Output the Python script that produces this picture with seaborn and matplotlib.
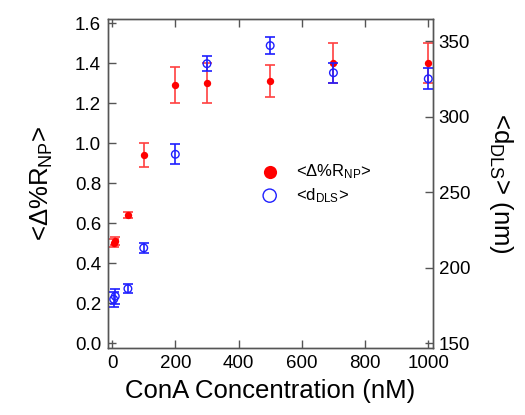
import numpy as np
import pandas as pd
import matplotlib
matplotlib.use("Agg")
import matplotlib.pyplot as plt
import seaborn as sns

# values
conc = [5, 10, 50, 100, 200, 300, 500, 700, 1000]
dR = [0.50, 0.51, 0.64, 0.94, 1.29, 1.30, 1.31, 1.40, 1.40]
dR_err = [0.02, 0.02, 0.015, 0.06, 0.09, 0.10, 0.08, 0.10, 0.10]
d_dls = [179, 181, 186, 213, 275, 335, 347, 329, 325]
d_dls_err = [5, 5, 3, 3.5, 6.5, 5, 5.5, 6.5, 7]

sns.set_style("ticks")
plt.rcParams['font.family'] = ['Liberation Sans', 'DejaVu Sans']
plt.rcParams['mathtext.default'] = 'regular'
plt.rcParams['text.color'] = 'black'
plt.rcParams['axes.labelcolor'] = 'black'
plt.rcParams['xtick.labelcolor'] = 'black'
plt.rcParams['ytick.labelcolor'] = 'black'

df = pd.DataFrame({"conc": conc, "dR": dR, "dR_err": dR_err,
                   "d": d_dls, "d_err": d_dls_err})

red = "#ff0000"
blue = "#1f1fff"
frame = "#555555"

fig, ax = plt.subplots(figsize=(5.25, 4.15), dpi=100)
fig.subplots_adjust(left=0.2057, right=0.8248, top=0.9542, bottom=0.1614)
ax2 = ax.twinx()

ax.errorbar(df["conc"], df["dR"], yerr=df["dR_err"], fmt='none',
            ecolor="#ff4040", elinewidth=1.2, capsize=3.5, capthick=1.2, zorder=2)
sns.scatterplot(data=df, x="conc", y="dR", ax=ax, color=red, s=28,
                edgecolor=red, linewidth=0, zorder=3, legend=False)

ax2.errorbar(df["conc"], df["d"], yerr=df["d_err"], fmt='none',
             ecolor=blue, elinewidth=1.2, capsize=3.5, capthick=1.2, zorder=2)
sns.scatterplot(data=df, x="conc", y="d", ax=ax2, s=30, marker='o',
                facecolor='none', edgecolor=blue, linewidth=1.0, zorder=3,
                legend=False)

ax.set_xlim(-13, 1015)
ax.set_ylim(-0.025, 1.62)
ax2.set_ylim(146.7, 364.6)
ax.set_xticks([0, 200, 400, 600, 800, 1000])
ax.set_yticks(np.arange(0, 1.61, 0.2))
ax.set_yticklabels([f"{v:.1f}" for v in np.arange(0, 1.61, 0.2)])
ax2.set_yticks([150, 200, 250, 300, 350])

for a in (ax, ax2):
    for s in a.spines.values():
        s.set_color(frame)
        s.set_linewidth(1.0)
ax.tick_params(axis='both', direction='in', length=6, width=1, color=frame,
               labelsize=13.5, labelcolor='black', top=True, pad=5)
ax.tick_params(axis='y', right=False)
ax2.tick_params(axis='y', direction='in', length=6, width=1, color=frame,
                labelsize=13.5, labelcolor='black', pad=4)

ax.set_xlabel("ConA Concentration (nM)", fontsize=18.5, labelpad=5, color='black')
ax.set_ylabel("<Δ%R$_{NP}$>", fontsize=18.5, labelpad=14, color='black')
ax2.set_ylabel("<d$_{DLS}$> (nm)", fontsize=18.5, rotation=270, labelpad=32,
               color='black')

# legend
h1 = ax.scatter([], [], s=90, color=red, linewidth=0)
h2 = ax.scatter([], [], s=90, facecolor='none', edgecolor=blue, linewidth=1.0)
ax.legend([h1, h2], ["<Δ%R$_{NP}$>", "<d$_{DLS}$>"], loc='center left',
          bbox_to_anchor=(0.40, 0.50), frameon=False, fontsize=12,
          handletextpad=0.6, labelspacing=0.3, labelcolor='black')

fig.savefig("out.png", dpi=100)
